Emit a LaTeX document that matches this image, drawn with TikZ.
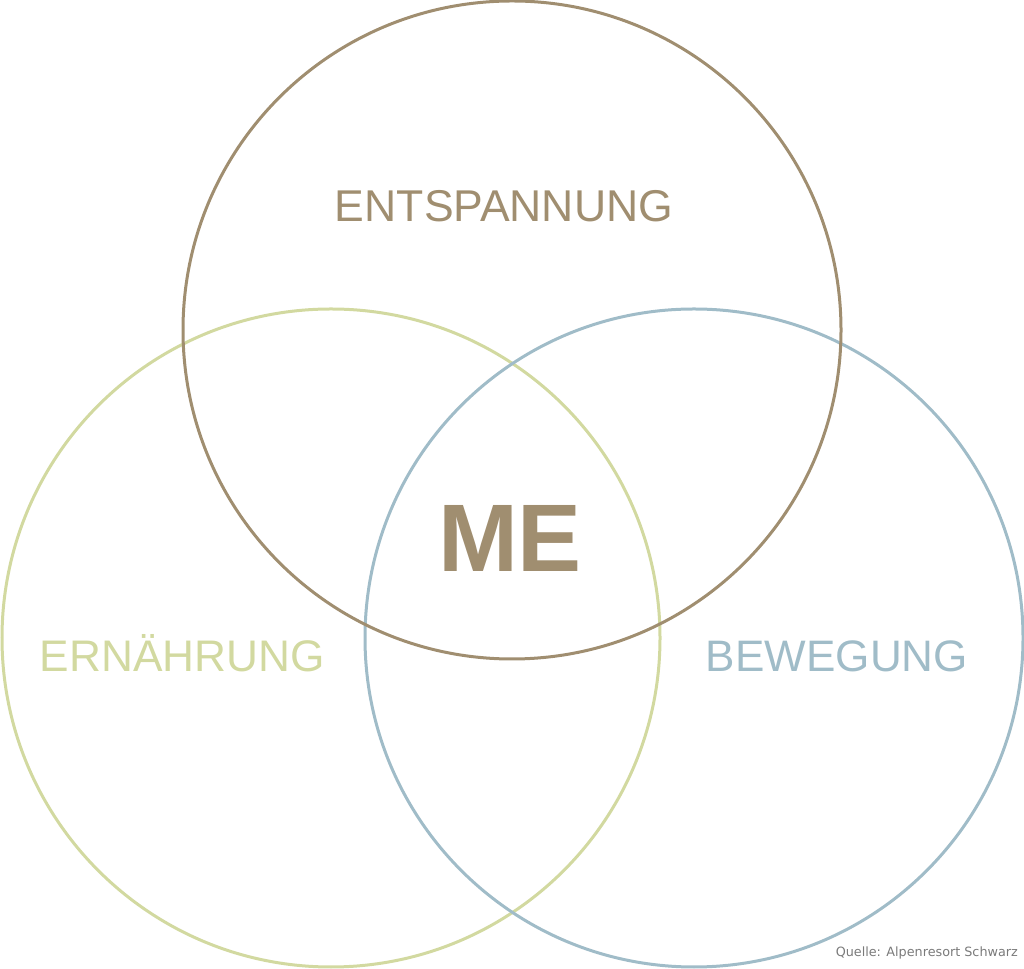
\documentclass[tikz,border=0pt]{standalone}
\usepackage{fontspec}
\setmainfont{Liberation Sans}
\newfontfamily\quellefont{DejaVu Sans}
\definecolor{brownc}{HTML}{A08E70}
\definecolor{greenc}{HTML}{D2D9A0}
\definecolor{bluec}{HTML}{A0BCC8}
\definecolor{grayc}{HTML}{7A7A7A}
\begin{document}
\begin{tikzpicture}[x=1pt,y=1pt,
  ring/.style={line width=3pt},
  label/.style={inner sep=0pt,anchor=base}]
\useasboundingbox (0,0) rectangle (1024,968);
\draw[ring,greenc] (331,330) circle (329);
\draw[ring,bluec] (694,330) circle (329);
\draw[ring,brownc] (512,638) circle (329);
\node[label,text=brownc] (ent) at (504,746.5) {\resizebox{338pt}{!}{ENTSPANNUNG}};
\node[label,text=greenc] (ern) at (182.5,296.5) {\resizebox{285pt}{!}{ERNÄHRUNG}};
\node[label,text=bluec] (bew) at (837,296.5) {\resizebox{262pt}{!}{BEWEGUNG}};
\node[label,text=brownc,font=\fontsize{96}{96}\selectfont\bfseries] (me) at (510,396) {ME};
\node[inner sep=0pt,text=grayc,anchor=base east] (q) at (1018,12) {\quellefont\resizebox{182pt}{!}{Quelle: Alpenresort Schwarz}};
\end{tikzpicture}
\end{document}
